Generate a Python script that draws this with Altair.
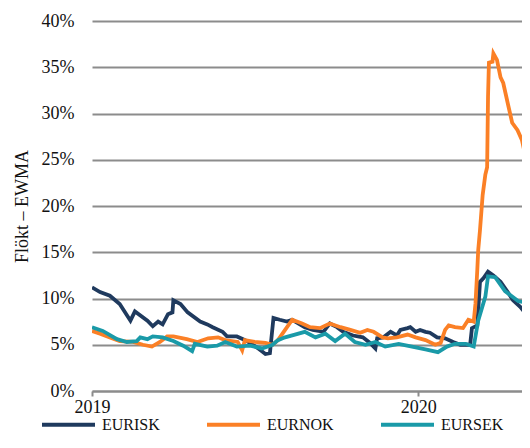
import altair as alt
import pandas as pd

# day offsets from 2019-01-01 and EWMA volatility (%)
isk_days = [0, 9, 20, 31, 43, 48, 62, 68, 74, 79, 85, 90, 91, 99, 107, 121, 129, 135, 146, 151,
            162, 169, 175, 186, 194, 199, 203, 210, 218, 224, 238, 247, 259, 266, 274, 281, 292,
            303, 311, 317, 319, 326, 334, 341, 345, 353, 356, 362, 367, 373, 378, 386, 395, 404,
            412, 423, 425, 431, 434, 438, 443, 449, 457, 465, 471, 479, 485, 490]
isk_vals = [11.2, 10.7, 10.3, 9.4, 7.6, 8.6, 7.6, 7.0, 7.5, 7.2, 8.3, 8.5, 9.8, 9.4, 8.5, 7.5, 7.2,
            6.9, 6.4, 5.9, 5.9, 5.6, 5.3, 4.6, 4.0, 4.1, 7.9, 7.7, 7.5, 7.7, 6.9, 6.6, 6.4, 7.3, 6.9,
            6.4, 6.0, 5.8, 5.2, 4.6, 5.7, 5.8, 6.4, 6.0, 6.6, 6.8, 6.9, 6.4, 6.6, 6.4, 6.3, 5.8, 5.7,
            5.3, 5.0, 5.0, 6.8, 7.1, 11.8, 12.2, 12.9, 12.5, 11.8, 10.7, 9.8, 9.1, 8.4, 7.9]

nok_days = [0, 9, 20, 31, 46, 57, 67, 76, 84, 91, 106, 118, 130, 141, 149, 163, 168, 171, 182, 194,
            202, 208, 216, 224, 235, 244, 255, 266, 278, 289, 300, 308, 315, 325, 331, 341, 353,
            362, 373, 384, 390, 395, 399, 406, 415, 421, 427, 429, 431, 432, 434, 437, 440, 442,
            443, 444, 448, 449, 453, 457, 460, 466, 470, 476, 481, 485, 490]
nok_vals = [6.5, 6.2, 5.8, 5.4, 5.3, 5.0, 4.8, 5.3, 5.9, 5.9, 5.6, 5.3, 5.7, 5.8, 5.5, 5.3, 4.4, 5.5,
            5.3, 5.2, 5.0, 5.5, 6.6, 7.7, 7.3, 6.9, 6.8, 7.3, 6.9, 6.6, 6.3, 6.6, 6.4, 5.8, 5.7, 5.8,
            6.1, 5.8, 5.5, 5.0, 5.2, 6.6, 7.1, 6.9, 6.8, 7.7, 7.5, 9.5, 13.1, 15.2, 17.4, 21.2, 23.4,
            24.2, 31.8, 35.5, 35.6, 36.5, 35.8, 33.9, 33.3, 30.7, 29.0, 28.2, 27.1, 25.3, 24.4]

sek_days = [0, 12, 28, 39, 50, 54, 62, 68, 79, 91, 102, 112, 115, 129, 140, 149, 157, 162, 177, 190,
            202, 208, 216, 227, 238, 250, 261, 272, 283, 294, 306, 317, 328, 343, 358, 373, 387,
            397, 406, 418, 427, 432, 440, 443, 451, 462, 477, 483, 488, 490]
sek_vals = [6.9, 6.5, 5.6, 5.3, 5.4, 5.8, 5.6, 5.9, 5.8, 5.4, 4.9, 4.3, 5.1, 4.8, 4.9, 5.3, 5.0, 4.8,
            4.9, 4.6, 5.0, 5.5, 5.8, 6.1, 6.4, 5.8, 6.2, 5.4, 6.2, 5.3, 5.0, 5.3, 4.8, 5.1, 4.8, 4.5,
            4.2, 4.8, 5.1, 5.1, 4.8, 7.6, 10.2, 12.4, 12.3, 10.8, 9.7, 9.6, 10.3, 10.4]

series = ["EURISK", "EURNOK", "EURSEK"]
colors = ["#1f3a5e", "#fb8026", "#1a9aa8"]
y_ticks = [0, 5, 10, 15, 20, 25, 30, 35, 40]

start = pd.Timestamp("2019-01-01")
frames = []
for name, days, vals in [("EURISK", isk_days, isk_vals), ("EURNOK", nok_days, nok_vals),
                         ("EURSEK", sek_days, sek_vals)]:
    frames.append(pd.DataFrame({
        "date": [(start + pd.Timedelta(days=d)).strftime("%Y-%m-%d") for d in days],
        "value": vals,
        "series": name,
    }))
df = pd.concat(frames, ignore_index=True)

FONT = "Liberation Serif"

chart = alt.Chart(df).mark_line(strokeWidth=3.8, clip=True).encode(
    x=alt.X("date:T",
            scale=alt.Scale(type="utc",
                            domain=[alt.DateTime(year=2019, month=1, date=1, utc=True),
                                    alt.DateTime(year=2020, month=4, date=26, utc=True)]),
            axis=alt.Axis(title=None, grid=False, format="%Y", formatType="utc",
                          values=[alt.DateTime(year=2019, month=1, date=1, utc=True),
                                  alt.DateTime(year=2020, month=1, date=1, utc=True)],
                          labelFlush=False, labelFontSize=18, labelFont=FONT, labelColor="#111",
                          domainColor="#8c8c8c", domainWidth=2, tickColor="#8c8c8c",
                          tickWidth=2, tickSize=5, labelPadding=2)),
    y=alt.Y("value:Q", scale=alt.Scale(domain=[0, 40], nice=False),
            axis=alt.Axis(title="Flökt – EWMA", values=y_ticks, labelExpr="datum.value + '%'",
                          grid=True, gridColor="#8c8c8c", gridWidth=2, domain=False, ticks=False,
                          labelPadding=18, labelFontSize=18, labelFont=FONT, labelColor="#111",
                          titleFont=FONT, titleFontSize=18, titleFontWeight="normal",
                          titleColor="#111", titlePadding=10)),
    color=alt.Color("series:N", scale=alt.Scale(domain=series, range=colors),
                    legend=alt.Legend(title=None, orient="none", legendX=-52, legendY=375,
                                      direction="horizontal", symbolType="stroke",
                                      symbolSize=2809, symbolStrokeWidth=4, columnPadding=39,
                                      labelOffset=5, labelFont=FONT, labelFontSize=16,
                                      labelColor="#111")),
).properties(
    width=430, height=370,
    autosize=alt.AutoSizeParams(type="none"),
    padding={"left": 84, "top": 13, "right": 0, "bottom": 45},
).configure_view(stroke=None)

chart.save("out.html", embed_options={"renderer": "svg", "actions": False})
